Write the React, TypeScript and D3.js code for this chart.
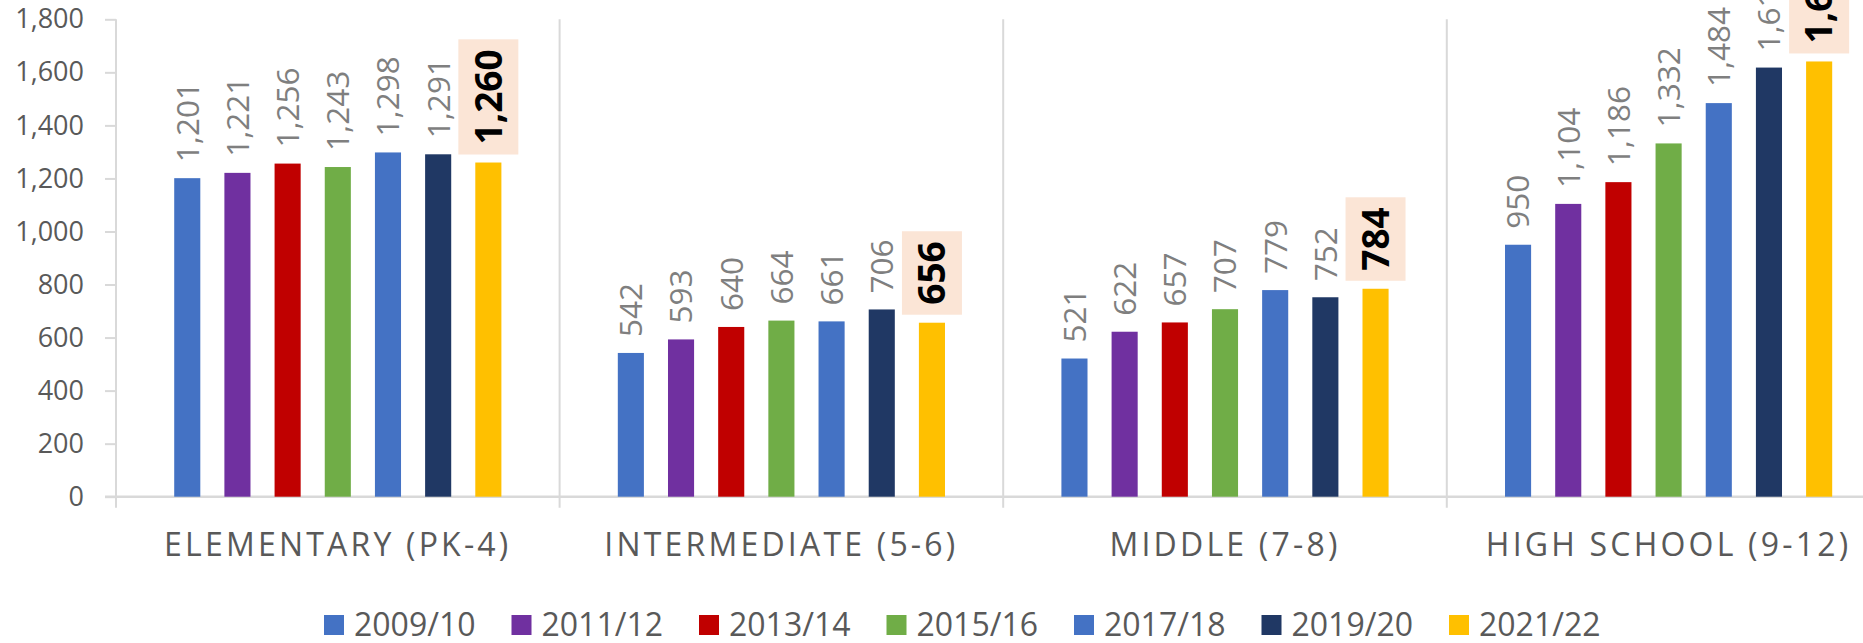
import React, { useEffect, useRef } from 'react'
import * as d3 from 'd3'

const categories = ['ELEMENTARY (PK-4)', 'INTERMEDIATE (5-6)', 'MIDDLE (7-8)', 'HIGH SCHOOL (9-12)']
const years = ['2009/10', '2011/12', '2013/14', '2015/16', '2017/18', '2019/20', '2021/22']
const colors = ['#4472C4', '#7030A0', '#C00000', '#70AD47', '#4472C4', '#203864', '#FFC000']

// one array per school level, in the order of years
const elementary = [1201, 1221, 1256, 1243, 1298, 1291, 1260]
const intermediate = [542, 593, 640, 664, 661, 706, 656]
const middle = [521, 622, 657, 707, 779, 752, 784]
const highSchool = [950, 1104, 1186, 1332, 1484, 1618, 1641]

const yTicks = [0, 200, 400, 600, 800, 1000, 1200, 1400, 1600, 1800]

const W = 1863, H = 643
const FONT = '"Open Sans", sans-serif'

function App() {
    const ref = useRef<SVGSVGElement>(null)

    useEffect(() => {
        document.body.style.margin = '0'
        const svg = d3.select(ref.current)
        svg.selectAll('*').remove()

        const series = [elementary, intermediate, middle, highSchool]
        const grid = '#D9D9D9'

        const y = d3.scaleLinear().domain([0, 1800]).range([496.7, 19.3])
        const x0 = d3.scaleBand().domain(categories).range([116, 1890.4]).padding(0)
        const x1 = d3.scaleBand().domain(years).range([0, x0.bandwidth()])
            .paddingInner(0.48).paddingOuter(1.16)

        // y axis ticks + labels
        const yAxis = d3.axisLeft(y)
            .tickValues(yTicks)
            .tickSize(11)
            .tickPadding(21)
            .tickFormat(d3.format(','))
        const ga = svg.append('g')
            .attr('transform', 'translate(116,0)')
            .call(yAxis)
        ga.select('.domain').remove()
        ga.selectAll('line').attr('stroke', grid).attr('stroke-width', 2)
        ga.selectAll('text')
            .attr('font-family', FONT)
            .attr('font-size', 27)
            .attr('fill', '#595959')

        // group dividers (first one doubles as y axis line)
        const bounds = categories.map(c => x0(c)).concat([x0.range()[1]])
        svg.append('g').selectAll('line')
            .data(bounds)
            .enter()
            .append('line')
            .attr('x1', d => d).attr('x2', d => d)
            .attr('y1', y(1800)).attr('y2', y(0) + 11)
            .attr('stroke', grid)
            .attr('stroke-width', 2)

        // baseline
        svg.append('line')
            .attr('x1', 105).attr('x2', x0.range()[1])
            .attr('y1', y(0)).attr('y2', y(0))
            .attr('stroke', grid)
            .attr('stroke-width', 2.5)

        const groups = svg.append('g').selectAll('g')
            .data(categories)
            .enter()
            .append('g')
            .attr('transform', d => 'translate(' + x0(d) + ',0)')

        groups.each(function(cat, ci) {
            const g = d3.select(this)
            const vals = series[ci]
            vals.forEach((v, i) => {
                const bx = x1(years[i])
                const cx = bx + x1.bandwidth() / 2
                g.append('rect')
                    .attr('x', bx)
                    .attr('y', y(v))
                    .attr('width', x1.bandwidth())
                    .attr('height', y(0) - y(v))
                    .attr('fill', colors[i])

                if (i < vals.length - 1) {
                    g.append('text')
                        .attr('transform', 'translate(' + cx + ',' + (y(v) - 16) + ') rotate(-90)')
                        .attr('dy', '0.36em')
                        .attr('font-family', FONT)
                        .attr('font-size', 31.5)
                        .attr('fill', '#7F7F7F')
                        .text(d3.format(',')(v))
                } else {
                    // latest year gets the highlighted bold label
                    const boxBottom = y(v) - 8
                    const pad = 10
                    const rect = g.append('rect')
                        .attr('fill', '#FBE5D6')
                    const t = g.append('text')
                        .attr('transform', 'translate(' + cx + ',' + (boxBottom - pad) + ') rotate(-90)')
                        .attr('dy', '0.36em')
                        .attr('font-family', FONT)
                        .attr('font-size', 37)
                        .attr('font-weight', 'bold')
                        .attr('fill', '#000')
                        .text(d3.format(',')(v))
                    const len = (t.node() as SVGTextElement).getComputedTextLength()
                    rect.attr('x', cx - 30)
                        .attr('width', 60)
                        .attr('y', boxBottom - len - pad * 2)
                        .attr('height', len + pad * 2)
                }
            })
        })

        // category labels
        svg.append('g').selectAll('text')
            .data(categories)
            .enter()
            .append('text')
            .attr('x', d => x0(d) + x0.bandwidth() / 2)
            .attr('y', 556)
            .attr('text-anchor', 'middle')
            .attr('font-family', FONT)
            .attr('font-size', 32)
            .attr('letter-spacing', 3.2)
            .attr('fill', '#595959')
            .text(d => d)

        // legend
        const lx = d3.scaleBand().domain(years).range([324, 324 + 7 * 187.5])
        const leg = svg.append('g').selectAll('g')
            .data(years)
            .enter()
            .append('g')
            .attr('transform', d => 'translate(' + lx(d) + ',615)')
        leg.append('rect')
            .attr('width', 20).attr('height', 20)
            .attr('fill', (d, i) => colors[i])
        leg.append('text')
            .attr('x', 30)
            .attr('y', 21)
            .attr('font-family', FONT)
            .attr('font-size', 32)
            .attr('fill', '#595959')
            .text(d => d)
    }, [])

    return (
        <svg ref={ref} width={W} height={H} style={{ display: 'block', background: '#fff' }}></svg>
    )
}

export default App
